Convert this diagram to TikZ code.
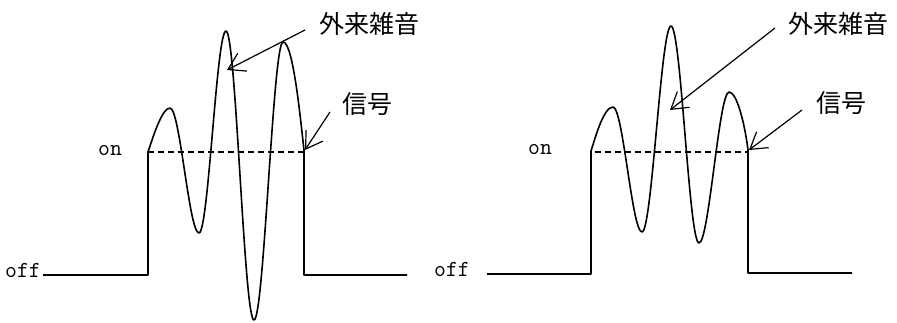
\documentclass[tikz,border=0pt]{standalone}
\usepackage{fontspec}
\newfontfamily\cjk{Noto Sans CJK JP}
\usetikzlibrary{arrows.meta}
\begin{document}
\begin{tikzpicture}[x=1pt,y=-1pt,
  wave/.style={line width=1.6pt, line join=round},
  level/.style={line width=1.1pt, dash pattern=on 6pt off 4pt},
  lbl/.style={font=\ttfamily\fontsize{23}{23}\selectfont, inner sep=0pt},
  jp/.style={font=\cjk\fontsize{25}{25}\selectfont, inner sep=0pt},
  pointer/.style={line width=1.2pt, -{Straight Barb[length=16pt,width=20pt]}}]
\useasboundingbox[fill=white] (0,0) rectangle (897,322);

% ---------- left panel ----------
\node[lbl, anchor=base west] (offA) at (5,277) {off};
\node[lbl, anchor=base] (onA) at (110,155) {on};
\node[jp] (noiseA) at (369,24) {外来雑音};
\node[jp] (sigA) at (367,104) {信号};

\coordinate (startA) at (43,275);
\coordinate (riseA) at (148,152);
\coordinate (fallA) at (304,150);
\draw[wave] (startA) -- (148,275) -- (riseA)
  .. controls (153,137) and (162,108) .. (170,108)
  .. controls (180,108) and (189,233) .. (199,233)
  .. controls (208.5,233) and (216.5,31) .. (226,31)
  .. controls (236,31) and (244,320) .. (254,320)
  .. controls (264,320) and (273,42) .. (283,42)
  .. controls (293,42) and (300,115) .. (fallA)
  -- (304,275) -- (407,275);
\draw[level] (riseA) -- (304,152);

\coordinate (nA0) at (305,30);
\coordinate (nA1) at (227,70);
\draw[pointer] (nA0) -- (nA1);
\coordinate (sA0) at (330,112);
\coordinate (sA1) at (305,150);
\draw[pointer] (sA0) -- (sA1);

% ---------- right panel ----------
\node[lbl, anchor=base west] (offB) at (434,276) {off};
\node[lbl, anchor=base] (onB) at (540,154) {on};
\node[jp] (noiseB) at (838,24) {外来雑音};
\node[jp] (sigB) at (841,103) {信号};

\coordinate (startB) at (487,274);
\coordinate (riseB) at (591,151);
\coordinate (fallB) at (748,150);
\draw[wave] (startB) -- (591,274) -- (riseB)
  .. controls (596,135) and (604,107) .. (613,107)
  .. controls (623,107) and (632,232) .. (642,232)
  .. controls (652,232) and (661,26) .. (671,26)
  .. controls (681,26) and (689,243) .. (699,243)
  .. controls (709,243) and (719,92) .. (729,92)
  .. controls (737,92) and (745,125) .. (fallB)
  -- (748,273) -- (852,273);
\draw[level] (595,152) -- (748,152);

\coordinate (nB0) at (775,28);
\coordinate (nB1) at (670,110);
\draw[pointer] (nB0) -- (nB1);
\coordinate (sB0) at (802,110);
\coordinate (sB1) at (749,150);
\draw[pointer] (sB0) -- (sB1);
\end{tikzpicture}
\end{document}
